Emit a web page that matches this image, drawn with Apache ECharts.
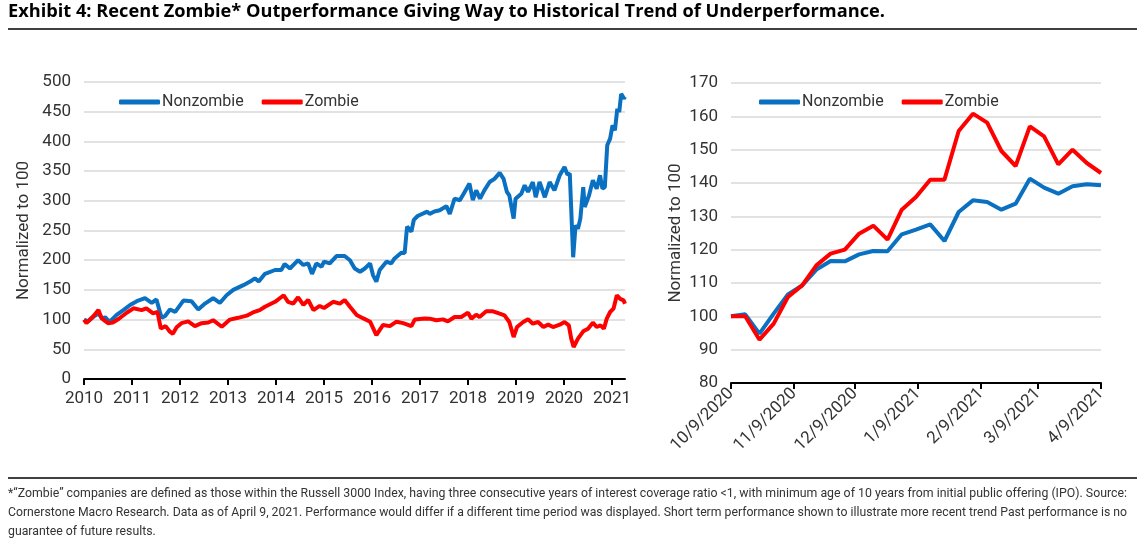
<!DOCTYPE html>
<html>
<head>
<meta charset="utf-8">
<script src="https://cdn.jsdelivr.net/npm/echarts@6/dist/echarts.min.js"></script>
<style>
html,body{margin:0;padding:0;background:#fff;}
#c{width:1145px;height:546px;}
</style>
</head>
<body>
<div id="c"></div>
<script>
// ---------- Data ----------
// Long history (decimal years), normalized to 100
const longNonzombieX = [2010.00,2010.08,2010.20,2010.30,2010.38,2010.44,2010.52,2010.58,2010.68,2010.82,2010.96,2011.10,2011.27,2011.41,2011.51,2011.58,2011.62,2011.69,2011.79,2011.90,2012.07,2012.24,2012.38,2012.52,2012.69,2012.83,2012.97,2013.11,2013.32,2013.46,2013.56,2013.64,2013.77,2013.98,2014.11,2014.18,2014.29,2014.46,2014.57,2014.67,2014.75,2014.84,2014.95,2015.00,2015.12,2015.26,2015.43,2015.54,2015.64,2015.75,2015.85,2015.96,2016.02,2016.09,2016.16,2016.30,2016.40,2016.47,2016.61,2016.68,2016.73,2016.82,2016.87,2016.95,2017.15,2017.20,2017.30,2017.41,2017.55,2017.62,2017.72,2017.83,2017.93,2018.03,2018.10,2018.17,2018.25,2018.34,2018.45,2018.55,2018.66,2018.74,2018.81,2018.86,2018.95,2018.99,2019.11,2019.18,2019.25,2019.35,2019.41,2019.49,2019.60,2019.70,2019.80,2019.91,2020.01,2020.07,2020.12,2020.19,2020.24,2020.29,2020.34,2020.40,2020.43,2020.52,2020.60,2020.68,2020.75,2020.80,2020.85,2020.90,2020.96,2021.01,2021.06,2021.11,2021.15,2021.19,2021.25,2021.27];
const longNonzombieY = [100,97,105,110,102,104,97,100,108,116,124.6,131,136,128,134,113,103,106,117,113,132,131,117,127,136,128,141,150,158,164,169.5,164,177,183.5,183.5,193.6,186,200,192,194.6,177,194.6,189,197.5,194.6,207,207,200,186,180.6,186,194.6,175,164,183.5,197.5,194.6,203,212.6,212,256.5,248,267.7,274.4,281.7,278,282,284,291,278,303.6,301,315,329,301,317.6,303.6,317.6,331.6,337,347,337,315,309,270,303.6,312,326,315,331.6,306,331.6,306,331.6,317.6,343,357,344,345.7,205,258.7,253,270,323,289.6,309,334.5,320.4,343,320.4,323,393.4,404.6,427,418.6,455,449.5,480,472,475];

const longZombieX = [2010.00,2010.05,2010.20,2010.30,2010.37,2010.50,2010.60,2010.72,2010.89,2011.03,2011.20,2011.30,2011.44,2011.53,2011.60,2011.70,2011.79,2011.85,2011.93,2012.03,2012.17,2012.31,2012.45,2012.59,2012.69,2012.87,2013.04,2013.21,2013.39,2013.52,2013.66,2013.77,2013.98,2014.16,2014.25,2014.36,2014.46,2014.57,2014.67,2014.78,2014.91,2015.00,2015.19,2015.33,2015.43,2015.54,2015.68,2015.82,2015.96,2016.09,2016.23,2016.37,2016.51,2016.65,2016.82,2016.89,2017.10,2017.20,2017.34,2017.48,2017.58,2017.72,2017.86,2018.00,2018.07,2018.17,2018.24,2018.38,2018.52,2018.66,2018.76,2018.86,2018.95,2019.02,2019.15,2019.25,2019.35,2019.46,2019.57,2019.67,2019.77,2019.91,2020.01,2020.10,2020.15,2020.20,2020.29,2020.40,2020.50,2020.60,2020.68,2020.76,2020.83,2020.89,2020.96,2021.03,2021.10,2021.17,2021.24,2021.27];
const longZombieY = [100,94,106,116,102,94,95,101,111.6,119,116,119,110.6,113,85,89,79.6,76,87,94,97,89,94,95,99,88,100,103,106.6,112,116,121.7,130,141,130,127,137.5,124.6,133,116,123,119.5,130,127,133,121.7,107.7,102,96.5,74,91,89,96.5,94,89,100,102,101.6,98.8,100.4,97,104.4,104.4,111.7,101.6,108.3,104.4,114,114,110,107.2,96,70.7,87.5,96,100.4,93.2,96,87.5,91.5,87.5,91.5,96,90.3,68,53.9,68,80.3,84.7,94.8,87.5,90.3,84.7,101.6,112.8,118.4,140.9,135,132.4,126.8];

const longYearTicks = [2010,2011,2012,2013,2014,2015,2016,2017,2018,2019,2020,2021];

// Recent weekly data (10/9/2020 - 4/9/2021), normalized to 100
const recentDates = ['2020-10-09','2020-10-16','2020-10-23','2020-10-30','2020-11-06','2020-11-13','2020-11-20','2020-11-27','2020-12-04','2020-12-11','2020-12-18','2020-12-25','2021-01-01','2021-01-08','2021-01-15','2021-01-22','2021-01-29','2021-02-05','2021-02-12','2021-02-19','2021-02-26','2021-03-05','2021-03-12','2021-03-19','2021-03-26','2021-04-02','2021-04-09'];
const recentNonzombie = [100,100.6,94.8,100.8,106.6,109.3,114,116.6,116.5,118.6,119.6,119.5,124.6,126,127.6,122.6,131.3,134.8,134.3,132,133.8,141.3,138.6,136.8,139,139.6,139.3];
const recentZombie = [100,100,93,97.8,105.8,109.3,115.3,118.8,120,124.8,127.2,123,132,135.8,141,141,155.6,160.8,158.1,149.6,145.1,157,154,145.6,150,146,143];
const recentTickDates = ['2020-10-09','2020-11-09','2020-12-09','2021-01-09','2021-02-09','2021-03-09','2021-04-09'];

const titleText = 'Exhibit 4: Recent Zombie* Outperformance Giving Way to Historical Trend of Underperformance.';
const noteLines = [
  '*\u201CZombie\u201D companies are defined as those within the Russell 3000 Index, having three consecutive years of interest coverage ratio <1, with minimum age of 10 years from initial public offering (IPO). Source:',
  'Cornerstone Macro Research. Data as of April 9, 2021. Performance would differ if a different time period was displayed. Short term performance shown to illustrate more recent trend Past performance is no',
  'guarantee of future results.'
];

// ---------- Chart ----------
const FONT = "Roboto, 'Noto Sans', sans-serif";
const BLUE = '#0A70C2';
const RED = '#FF0000';
const TXT = '#333333';
const DAY = 86400000;
const ts = s => { const [y,m,d] = s.split('-').map(Number); return Date.UTC(y, m-1, d); };
const day0 = ts(recentDates[0]);
const dayNo = s => Math.round((ts(s) - day0) / DAY);
const fmtDay = v => { const d = new Date(day0 + v * DAY); return (d.getUTCMonth()+1) + '/' + d.getUTCDate() + '/' + d.getUTCFullYear(); };
const pair = (xs, ys) => xs.map((x,i) => [x, ys[i]]);

const mctx = document.createElement('canvas').getContext('2d');
const measure = (txt, font) => { mctx.font = font; return mctx.measureText(txt).width; };

const titleFont = "bold 17px 'Open Sans', sans-serif";
const titleScale = 877 / measure(titleText, titleFont);
const noteFont = "13px " + FONT;
const s1 = 1119 / measure(noteLines[0], noteFont);
const s2 = 1119 / measure(noteLines[1], noteFont);
const noteScales = [s1, s2, (s1 + s2) / 2];
const noteY = [487, 506, 525];

const chart = echarts.init(document.getElementById('c'), null, {renderer:'canvas'});

const legendCommon = {
  icon: 'roundRect', itemWidth: 41, itemHeight: 5, itemGap: 18, padding: 0,
  textStyle: {fontFamily: FONT, fontSize: 16, color: TXT, padding: [0,0,0,-3]},
  data: ['Nonzombie','Zombie'], selectedMode: false
};

const recentTicks = recentTickDates.map(dayNo);

const graphics = [
  {type:'text', x: 8, y: 4, scaleX: titleScale, style:{text: titleText, font: titleFont, fill:'#000', verticalAlign:'top'}},
  {type:'line', shape:{x1:8, y1:29, x2:1137, y2:29}, style:{stroke:'#000', lineWidth:1.5}},
  {type:'line', shape:{x1:8, y1:478, x2:1137, y2:478}, style:{stroke:'#000', lineWidth:1.5}}
];
noteLines.forEach((t, i) => graphics.push({type:'text', x: 8, y: noteY[i], scaleX: noteScales[i], style:{text: t, font: noteFont, fill: TXT, verticalAlign:'top'}}));

chart.setOption({
  animation: false,
  textStyle: {fontFamily: FONT},
  graphic: graphics,
  legend: [
    Object.assign({left: 119, top: 93}, legendCommon),
    Object.assign({left: 759, top: 93}, legendCommon)
  ].map(l => Object.assign(l, {top: 94})),
  grid: [
    {left: 84, top: 82, width: 541, height: 297},
    {left: 731, top: 83, width: 370, height: 300}
  ],
  xAxis: [
    {
      type: 'value', gridIndex: 0, min: 2010, max: 2021.27, interval: 1,
      axisLine: {show: true, lineStyle: {color: '#000', width: 2}},
      axisTick: {show: true, inside: false, length: 6, lineStyle: {color:'#000', width: 2}, customValues: longYearTicks},
      axisLabel: {customValues: longYearTicks, color: TXT, fontSize: 17, margin: 11, formatter: v => String(Math.round(v))},
      splitLine: {show: false}
    },
    {
      type: 'value', gridIndex: 1, min: 0, max: dayNo(recentDates[recentDates.length-1]),
      axisLine: {show: true, lineStyle: {color: '#000', width: 2}},
      axisTick: {show: true, length: 6, lineStyle: {color:'#000', width: 2}, customValues: recentTicks},
      axisLabel: {customValues: recentTicks, rotate: 45, color: TXT, fontSize: 17, margin: 8, formatter: v => fmtDay(v)},
      splitLine: {show: false}
    }
  ],
  yAxis: [
    {
      type: 'value', gridIndex: 0, min: 0, max: 500, interval: 50,
      name: 'Normalized to 100', nameLocation: 'middle', nameGap: 52, nameRotate: 90,
      nameTextStyle: {color: TXT, fontSize: 17, fontFamily: FONT},
      axisLine: {show: false}, axisTick: {show: false},
      axisLabel: {color: TXT, fontSize: 17, margin: 13},
      splitLine: {lineStyle: {color: '#d9d9d9', width: 1.5}}
    },
    {
      type: 'value', gridIndex: 1, min: 80, max: 170, interval: 10,
      name: 'Normalized to 100', nameLocation: 'middle', nameGap: 47, nameRotate: 90,
      nameTextStyle: {color: TXT, fontSize: 17, fontFamily: FONT},
      axisLine: {show: false}, axisTick: {show: false},
      axisLabel: {color: TXT, fontSize: 17, margin: 13},
      splitLine: {lineStyle: {color: '#d9d9d9', width: 1.5}}
    }
  ],
  series: [
    {name:'Nonzombie', type:'line', xAxisIndex:0, yAxisIndex:0, data: pair(longNonzombieX, longNonzombieY), showSymbol:false, symbol:'none', lineStyle:{color:BLUE, width:4}, itemStyle:{color:BLUE}},
    {name:'Zombie', type:'line', xAxisIndex:0, yAxisIndex:0, data: pair(longZombieX, longZombieY), showSymbol:false, symbol:'none', lineStyle:{color:RED, width:4}, itemStyle:{color:RED}},
    {name:'Nonzombie', type:'line', xAxisIndex:1, yAxisIndex:1, data: recentDates.map((d,i)=>[dayNo(d), recentNonzombie[i]]), showSymbol:false, symbol:'none', lineStyle:{color:BLUE, width:4}, itemStyle:{color:BLUE}},
    {name:'Zombie', type:'line', xAxisIndex:1, yAxisIndex:1, data: recentDates.map((d,i)=>[dayNo(d), recentZombie[i]]), showSymbol:false, symbol:'none', lineStyle:{color:RED, width:4}, itemStyle:{color:RED}}
  ]
});
</script>
</body>
</html>
